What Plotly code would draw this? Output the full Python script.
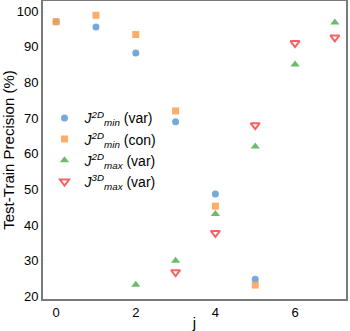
import plotly.graph_objects as go

j_min_var = [0, 1, 2, 3, 4, 5]
v_min_var = [97, 95.5, 88.2, 69, 48.7, 24.8]
j_min_con = [0, 1, 2, 3, 4, 5]
v_min_con = [97, 98.8, 93.4, 72, 45.3, 23.2]
j_max_var = [2, 3, 4, 5, 6, 7]
v_max_var = [23.3, 30, 43.1, 62, 85, 96.8]
j_max3d_var = [3, 4, 5, 6, 7]
v_max3d_var = [26.8, 37.8, 68, 91, 92.6]

names = [
    "<i>J</i><sup><i>2D</i></sup><sub><i>min</i></sub> (var)",
    "<i>J</i><sup><i>2D</i></sup><sub><i>min</i></sub> (con)",
    "<i>J</i><sup><i>2D</i></sup><sub><i>max</i></sub> (var)",
    "<i>J</i><sup><i>3D</i></sup><sub><i>max</i></sub> (var)",
]

fig = go.Figure()
fig.add_trace(go.Scatter(x=j_min_var, y=v_min_var, mode="markers", name=names[0],
                         marker=dict(symbol="circle", size=7, color="rgba(91,155,213,0.85)")))
fig.add_trace(go.Scatter(x=j_min_con, y=v_min_con, mode="markers", name=names[1],
                         marker=dict(symbol="square", size=7, color="rgba(250,160,80,0.85)")))
fig.add_trace(go.Scatter(x=j_max_var, y=v_max_var, mode="markers", name=names[2],
                         marker=dict(symbol="triangle-up", size=8, color="rgba(90,180,90,0.9)")))
fig.add_trace(go.Scatter(x=j_max3d_var, y=v_max3d_var, mode="markers", name=names[3],
                         marker=dict(symbol="triangle-down-open", size=8,
                                     line=dict(color="rgba(250,90,90,0.95)", width=2),
                                     color="rgba(250,90,90,0.95)")))

axis_common = dict(showline=True, mirror=True, linecolor="#7a7a7a", linewidth=2,
                   ticks="", showgrid=False,
                   zeroline=False, automargin=False,
                   tickfont=dict(size=13, color="black"))

fig.update_layout(
    width=350, height=331,
    margin=dict(l=43, r=4, t=1, b=32),
    plot_bgcolor="white", paper_bgcolor="white",
    font=dict(family="Liberation Sans, Arial, sans-serif", color="black"),
    xaxis=dict(range=[-0.33, 7.28], tickvals=[0, 2, 4, 6],
               title=dict(text="j", font=dict(size=15), standoff=1), **axis_common),
    yaxis=dict(range=[19.3, 102.8], tickvals=[20, 30, 40, 50, 60, 70, 80, 90, 100],
               title=dict(text="Test-Train Precision (%)", font=dict(size=15), standoff=4),
               **axis_common),
    legend=dict(x=0.005, y=0.66, xanchor="left", yanchor="top", bgcolor="rgba(0,0,0,0)",
                font=dict(size=14), tracegroupgap=0, itemsizing="trace"),
    showlegend=True,
)

fig.write_html("out.html", config={"displayModeBar": False},
               post_script="document.body.style.margin='0';document.body.style.overflow='hidden';")
